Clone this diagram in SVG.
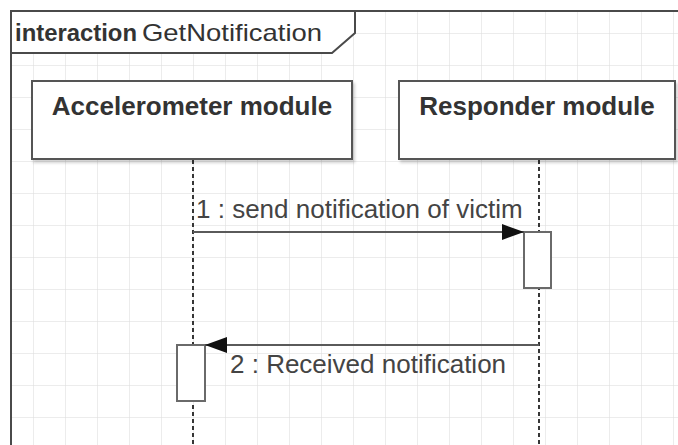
<svg xmlns="http://www.w3.org/2000/svg" width="678" height="445" viewBox="0 0 678 445">
  <defs>
    <pattern id="grid" x="1" y="1" width="32" height="32" patternUnits="userSpaceOnUse">
      <path d="M0 0H32M0 0V32" fill="none" stroke="#dadada" stroke-width="1"/>
    </pattern>
    <filter id="shadow" x="-10%" y="-10%" width="130%" height="140%">
      <feGaussianBlur in="SourceAlpha" stdDeviation="1.5"/>
      <feOffset dx="2" dy="3" result="b"/>
      <feComponentTransfer><feFuncA type="linear" slope="0.18"/></feComponentTransfer>
      <feMerge><feMergeNode/><feMergeNode in="SourceGraphic"/></feMerge>
    </filter>
    <marker id="block" viewBox="0 0 22 16" refX="22" refY="8" markerWidth="22" markerHeight="16" markerUnits="userSpaceOnUse" orient="auto">
      <path d="M0 0L22 8L0 16Z" fill="#111"/>
    </marker>
  </defs>
  <style>
    .frame { fill: none; stroke: #4a4a4a; stroke-width: 2; }
    .tab { fill: #fff; stroke: #4a4a4a; stroke-width: 2; }
    .box { fill: #fff; stroke: #555; stroke-width: 2; }
    .act { fill: #fff; stroke: #6a6a6a; stroke-width: 2; }
    .life { stroke: #222; stroke-width: 1.8; stroke-dasharray: 4 3; fill: none; }
    .msg { stroke: #5a5a5a; stroke-width: 2; fill: none; }
    .name { font-family: "Liberation Sans", Arial, sans-serif; font-weight: bold; font-size: 26px; fill: #333; text-anchor: middle; }
    .label { font-family: "Liberation Sans", Arial, sans-serif; font-size: 26px; fill: #444; }
    .title { font-family: "Liberation Sans", Arial, sans-serif; font-size: 24px; fill: #333; }
  </style>

  <rect width="678" height="445" fill="#fff"/>
  <rect x="11" y="11" width="680" height="450" fill="url(#grid)"/>

  <!-- interaction frame -->
  <g id="frame">
    <path class="frame" d="M11 460V11H690"/>
    <path class="tab" d="M11 11H355V33L332 53H11Z"/>
    <text class="title" x="15" y="41"><tspan font-weight="bold" textLength="122" lengthAdjust="spacingAndGlyphs">interaction</tspan><tspan x="142" textLength="180" lengthAdjust="spacingAndGlyphs">GetNotification</tspan></text>
  </g>

  <!-- lifelines -->
  <g id="accelerometer">
    <line class="life" x1="193" y1="160" x2="193" y2="445"/>
    <rect class="box" x="32" y="81" width="320" height="78" filter="url(#shadow)"/>
    <text class="name" x="192" y="115">Accelerometer module</text>
    <rect class="act" x="177" y="345" width="28" height="56"/>
  </g>

  <g id="responder">
    <line class="life" x1="539" y1="160" x2="539" y2="445"/>
    <rect class="box" x="399" y="81" width="276" height="78" filter="url(#shadow)"/>
    <text class="name" x="537" y="115">Responder module</text>
    <rect class="act" x="524" y="232" width="27" height="56"/>
  </g>

  <!-- messages -->
  <g id="connectors">
    <line class="msg" x1="193" y1="232" x2="524" y2="232" marker-end="url(#block)"/>
    <text class="label" x="196" y="218">1 : send notification of victim</text>
    <line class="msg" x1="539" y1="345" x2="205" y2="345" marker-end="url(#block)"/>
    <text class="label" x="230" y="373">2 : Received notification</text>
  </g>
</svg>
